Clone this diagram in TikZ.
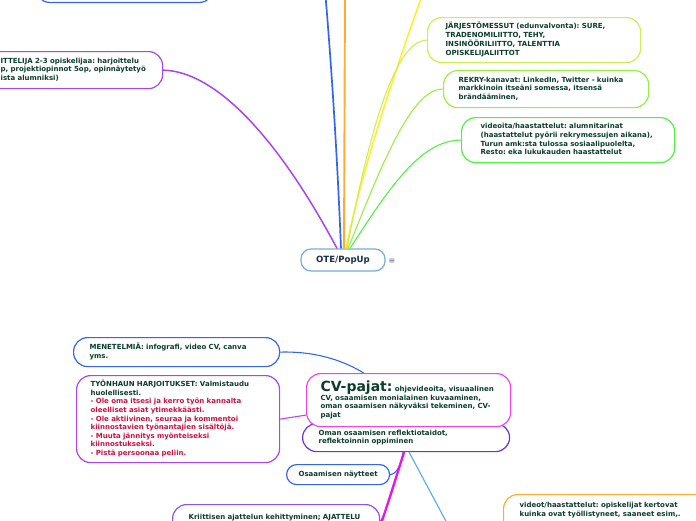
\documentclass[tikz,border=0pt]{standalone}
\usepackage{fontspec}
\setmainfont{DejaVu Sans}
\frenchspacing
\definecolor{txt}{HTML}{0B3D2C}
\definecolor{otetxt}{HTML}{1A2B4C}
\definecolor{redtxt}{HTML}{CC1144}
\definecolor{cjarj}{HTML}{CCEE55}
\definecolor{crekry}{HTML}{99EE44}
\definecolor{cvid}{HTML}{55EE44}
\definecolor{cpurple}{HTML}{AA44EE}
\definecolor{cyellow}{HTML}{FFEE22}
\definecolor{corange}{HTML}{FFAA33}
\definecolor{cblue}{HTML}{3366EE}
\definecolor{cote}{HTML}{77AADD}
\definecolor{cmag}{HTML}{EE44EE}
\definecolor{cmagline}{HTML}{EE11EE}
\definecolor{coman}{HTML}{6633DD}
\definecolor{ckri}{HTML}{8855EE}
\definecolor{clblue}{HTML}{55AAEE}
\definecolor{cmenu}{HTML}{556688}
\begin{document}
\begin{tikzpicture}[x=1pt,y=-1pt,
  box/.style={draw=#1, line width=1.2pt, rounded corners=14pt, fill=white,
    anchor=north west, align=left, inner ysep=0pt, text=txt,
    font=\bfseries\fontsize{7}{8.6}\selectfont},
  conn/.style={draw=#1, line width=1.1pt},
]
\useasboundingbox (0,0) rectangle (696,520);
\clip (0,0) rectangle (696,520);

% ---------- upper part ----------
\node[draw=cblue, line width=1.2pt, rounded corners=14pt, minimum width=178pt,
  minimum height=40pt, anchor=south west, inner sep=0pt] (topbox) at (35,3) {};

\node[box=cjarj, inner xsep=18pt, text width=177pt, minimum height=45pt] (jarj) at (427,17)
 {\begin{tabular}{@{}l@{}}JÄRJESTÖMESSUT (edunvalvonta): SURE,\\TRADENOMILIITTO, TEHY,\\INSINÖÖRILIITTO, TALENTTIA\\OPISKELIJALIITTOT\end{tabular}};

\node[box=crekry, inner xsep=15pt, text width=175pt, minimum height=37pt] (rekry) at (443,70)
 {\begin{tabular}{@{}l@{}}REKRY-kanavat: LinkedIn, Twitter - kuinka\\markkinoin itseäni somessa, itsensä\\brändääminen,\end{tabular}};

\node[box=cvid, inner xsep=19pt, text width=175pt, minimum height=45pt] (vid) at (461,117)
 {\begin{tabular}{@{}l@{}}videoita/haastattelut: alumnitarinat\\(haastattelut pyörii rekrymessujen aikana),\\Turun amk:sta tulossa sosiaalipuolelta,\\Resto: eka lukukauden haastattelut\end{tabular}};

\node[box=cpurple, inner xsep=14pt, text width=148pt, minimum height=37pt] (itt) at (-14,51)
 {\begin{tabular}{@{}l@{}}ITTELIJA 2-3 opiskelijaa: harjoittelu\\p, projektiopinnot 5op, opinnäytetyö\\ista alumniksi)\end{tabular}};

\node[draw=cote, line width=1.2pt, rounded corners=10pt, fill=white, minimum width=84pt,
  minimum height=22pt, inner sep=0pt, text=otetxt, font=\bfseries\fontsize{8.6}{10}\selectfont] (ote) at (343,260) {OTE/PopUp};
\node[text=cmenu, font=\fontsize{8}{10}\selectfont, inner sep=0pt] (menu) at (392,261) {≡};

\coordinate (bluetop) at (325,-10);
\coordinate (orangetop) at (345,-10);
\coordinate (yeltop) at (424,-10);

\draw[conn=cblue, line width=1.7pt] ([xshift=-2pt]ote.north) .. controls (337,150) and (331,60) .. (bluetop);
\draw[conn=corange, line width=1.9pt] ([xshift=1pt]ote.north) -- (orangetop);
\draw[conn=cyellow, line width=1.5pt] ([xshift=3pt]ote.north) .. controls (362,170) and (392,80) .. (yeltop);
\draw[conn=cjarj] ([xshift=4pt]ote.north) .. controls (366,150) and (392,40) .. (jarj.west);
\draw[conn=crekry] ([xshift=5pt]ote.north) .. controls (378,175) and (410,88) .. (rekry.west);
\draw[conn=cvid] ([xshift=7pt]ote.north) .. controls (388,190) and (420,140) .. (vid.west);
\draw[conn=cpurple, line width=1.5pt] ([xshift=-6pt]ote.north) .. controls (290,160) and (225,72) .. (itt.east);

% ---------- lower part ----------
\node[box=cblue, inner xsep=16pt, text width=174pt, minimum height=29pt] (men) at (73,337)
 {\begin{tabular}{@{}l@{}}MENETELMIÄ: infografi, video CV, canva\\yms.\end{tabular}};

\node[box=cpurple, inner xsep=14pt, text width=175pt, minimum height=87pt] (tyo) at (76,375)
 {\begin{tabular}{@{}l@{}}TYÖNHAUN HARJOITUKSET: Valmistaudu\\huolellisesti.\\
 \color{redtxt}- Ole oma itsesi ja kerro työn kannalta\\\color{redtxt}oleelliset asiat ytimekkäästi.\\
 \color{redtxt}- Ole aktiivinen, seuraa ja kommentoi\\\color{redtxt}kiinnostavien työnantajien sisältöjä.\\
 \color{redtxt}- Muuta jännitys myönteiseksi\\\color{redtxt}kiinnostukseksi.\\
 \color{redtxt}- Pistä persoonaa peliin.\end{tabular}};

\node[box=coman, inner xsep=16pt, text width=175pt, minimum height=28pt] (oman) at (302,423)
 {\begin{tabular}{@{}l@{}}Oman osaamisen reflektiotaidot,\\reflektoinnin oppiminen\end{tabular}};

\node[box=cmag, inner xsep=14pt, text width=176pt, minimum height=53pt] (cv) at (306,373)
 {\begin{tabular}{@{}l@{}}{\fontsize{14}{16}\selectfont CV-pajat:} ohjevideoita, visuaalinen\\CV, osaamisen monialainen kuvaaminen,\\oman osaamisen näkyväksi tekeminen, CV-\\pajat\end{tabular}};

\node[box=cblue, inner xsep=12pt, text width=79pt, minimum height=20pt, rounded corners=10pt] (osa) at (286,464)
 {\begin{tabular}{@{}l@{}}Osaamisen näytteet\end{tabular}};

\node[box=ckri, inner xsep=16pt, text width=175pt, minimum height=34pt] (kri) at (172,504)
 {\begin{tabular}{@{}l@{}}Kriittisen ajattelun kehittyminen; AJATTELU\\\strut\end{tabular}};

\node[box=corange, inner xsep=16pt, text width=185pt, minimum height=40pt] (vdt) at (503,494)
 {\begin{tabular}{@{}l@{}}videot/haastattelut: opiskelijat kertovat\\kuinka ovat työllistyneet, saaneet esim,.\\\strut\end{tabular}};

\coordinate (magbot) at (376,540);
\coordinate (lbbot) at (456,540);

\draw[conn=cblue] (men.east) .. controls (318,351) and (346,362) .. ([xshift=-45pt]cv.north);
\draw[conn=cpurple!70!cmag] (tyo.east) -- ([yshift=-15pt]cv.west);
\draw[conn=cblue] (osa.east) .. controls (398,474) and (401,462) .. ([xshift=-3pt]oman.south);
\draw[conn=ckri] (kri.east) .. controls (390,505) and (398,470) .. ([xshift=-2pt]oman.south);
\draw[conn=cmagline, line width=2.2pt] ([xshift=-2pt]oman.south) -- (magbot);
\draw[conn=clblue] ([xshift=3pt]oman.south) -- (lbbot);
\end{tikzpicture}
\end{document}
